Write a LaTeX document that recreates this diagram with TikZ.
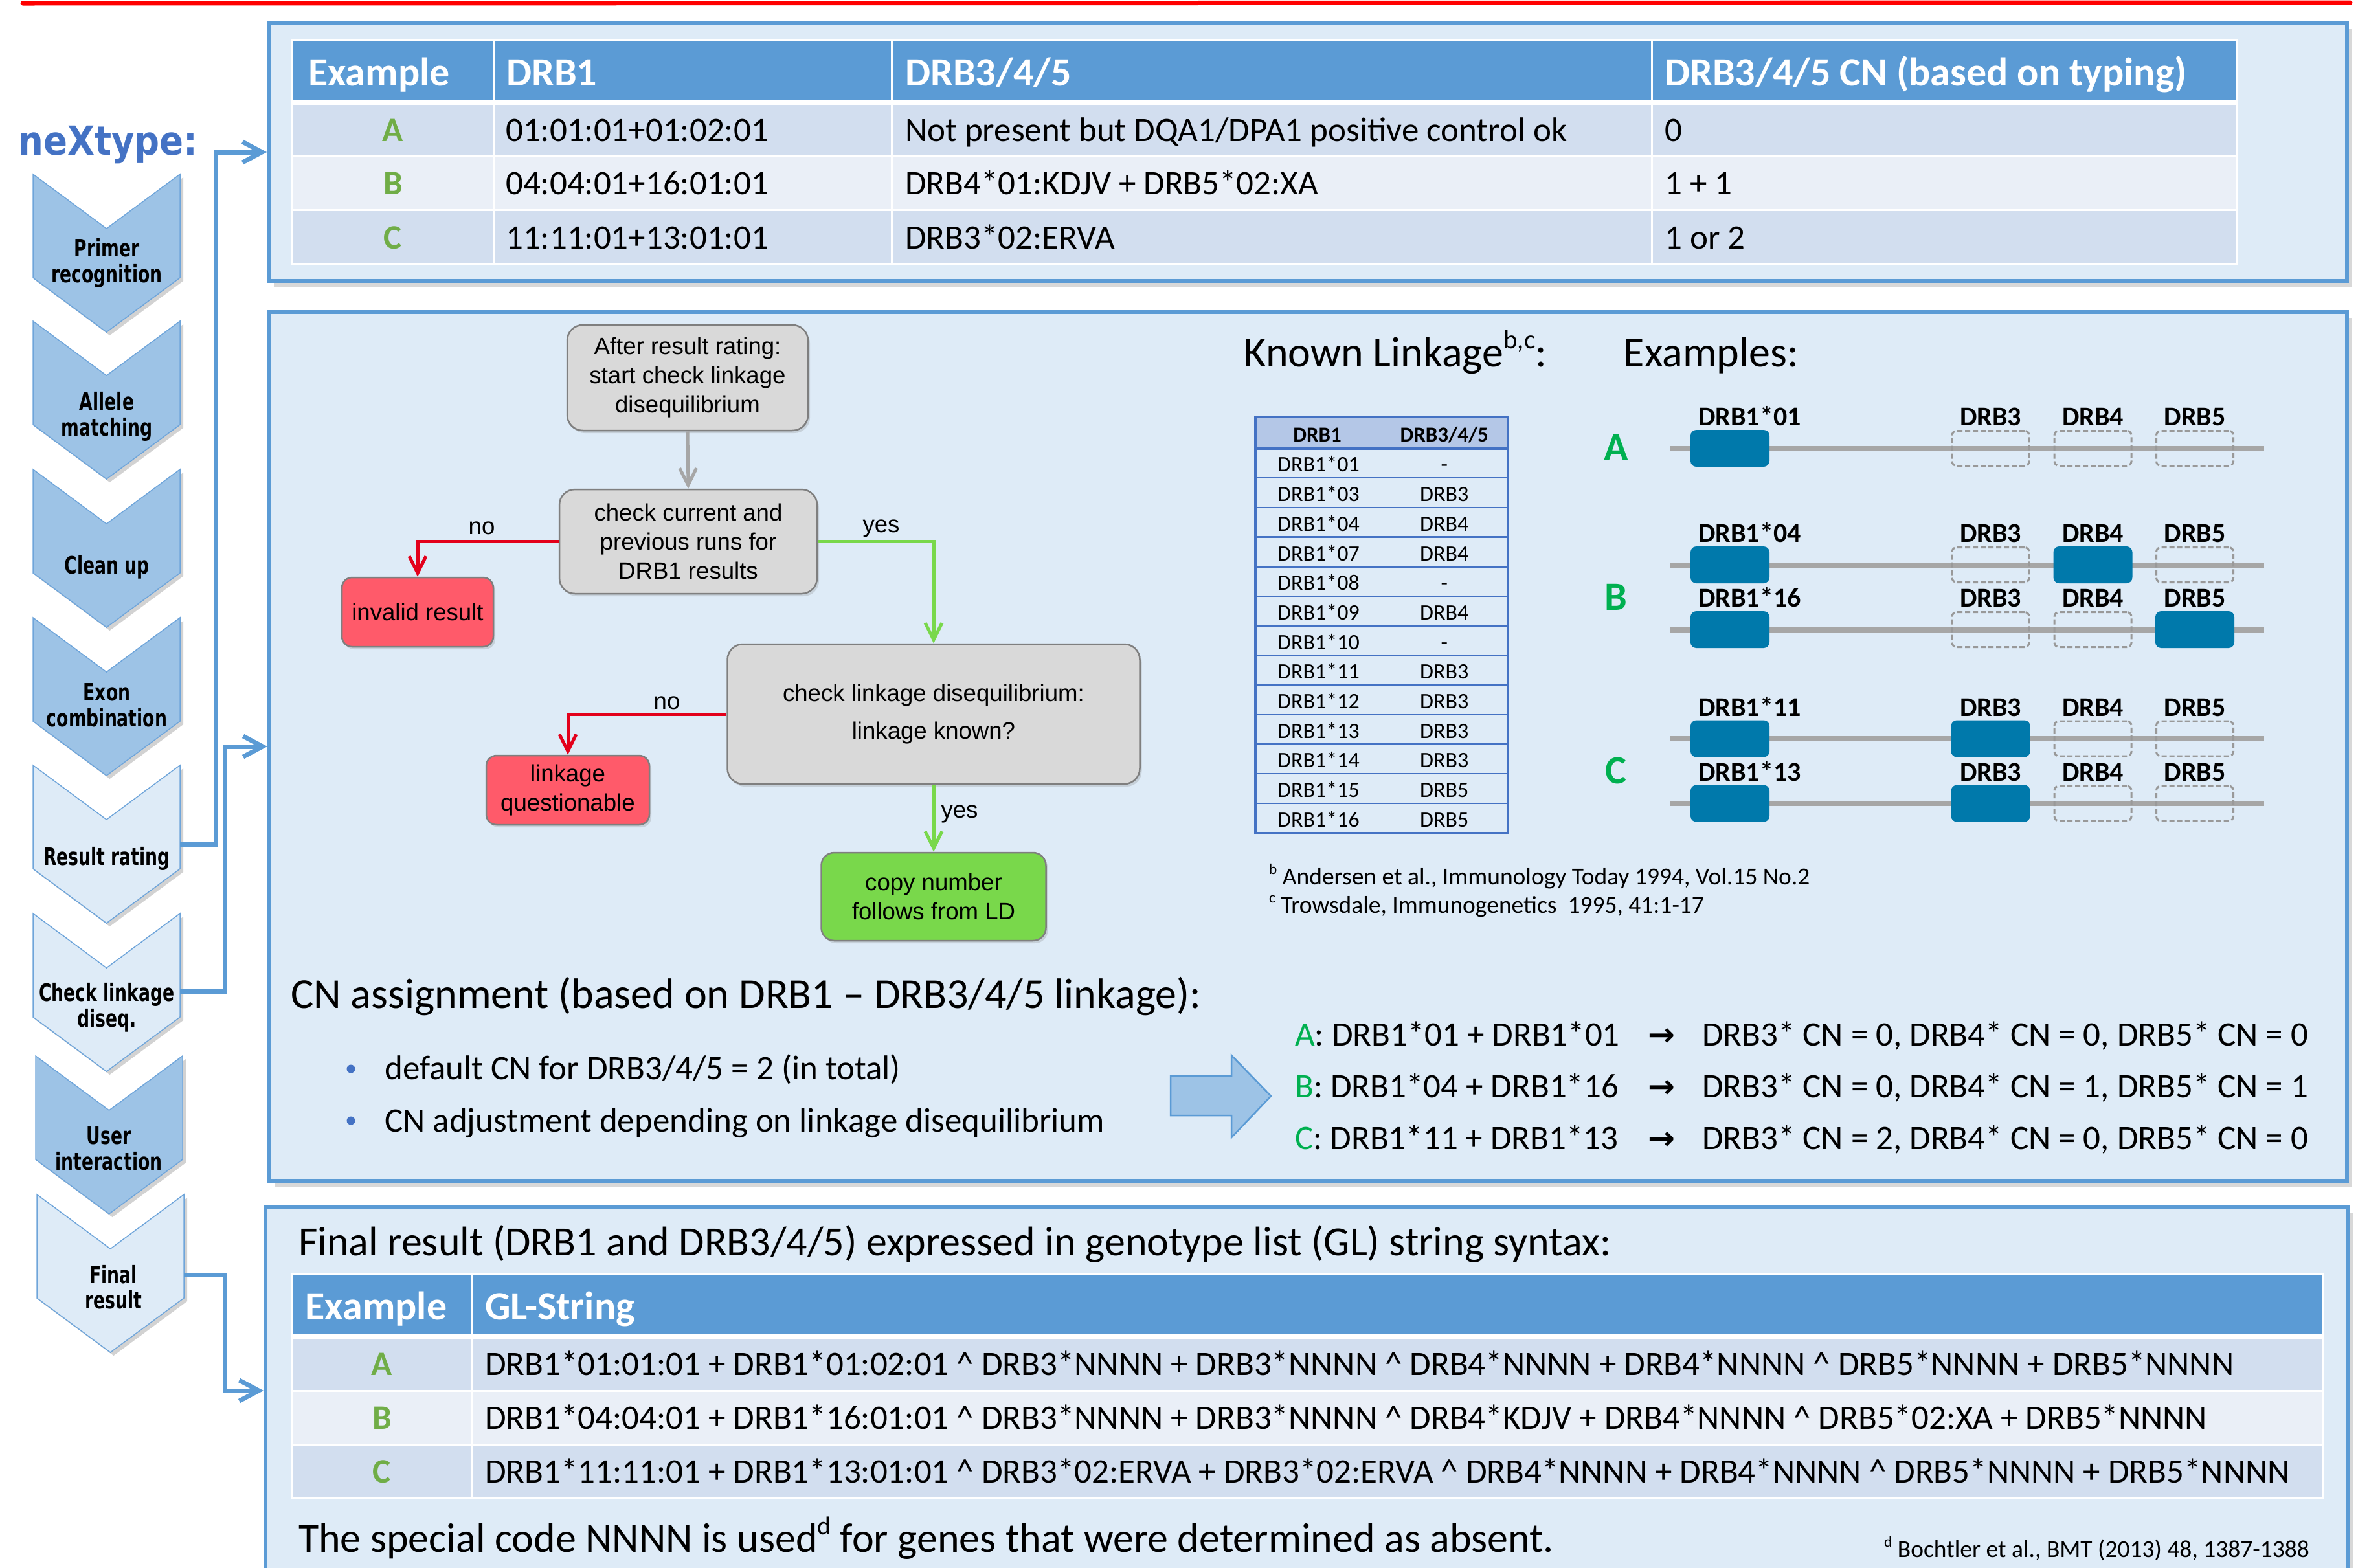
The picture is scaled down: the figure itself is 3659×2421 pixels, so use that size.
\documentclass[tikz,border=0pt]{standalone}
\usepackage{fontspec}
\setmainfont{Carlito}
\newfontfamily\flowfont{Liberation Sans}
\newfontfamily\chevfont{DejaVu Sans}[FakeStretch=0.72]
\newfontfamily\brandfont{DejaVu Sans}[FakeStretch=0.88]
\newfontfamily\symfont{DejaVu Sans}
\usetikzlibrary{arrows.meta,shadows}
\newcommand\fsz[2]{\fontsize{#1}{#2}\selectfont}
\newcommand\sups[1]{\raisebox{0.42em}{\scalebox{0.62}{#1}}}

\definecolor{panelfill}{HTML}{DEEBF7}
\definecolor{panelblue}{HTML}{5B9BD5}
\definecolor{linkblue}{HTML}{5B9BD5}
\definecolor{chevdark}{HTML}{9DC3E6}
\definecolor{chevlight}{HTML}{DEEBF7}
\definecolor{chevedge}{HTML}{6FA5DA}
\definecolor{brandblue}{HTML}{4472C4}
\definecolor{tblhead}{HTML}{5B9BD5}
\definecolor{rowdark}{HTML}{D2DEEF}
\definecolor{rowlight}{HTML}{EAEFF7}
\definecolor{letgreen}{HTML}{70AD47}
\definecolor{abcgreen}{HTML}{00B050}
\definecolor{geneblue}{HTML}{0079AB}
\definecolor{genegrey}{HTML}{A6A6A6}
\definecolor{dashgrey}{HTML}{999999}
\definecolor{flowgrey}{HTML}{D9D9D9}
\definecolor{flowedge}{HTML}{7F7F7F}
\definecolor{flowred}{HTML}{FF5A6A}
\definecolor{flowgreen}{HTML}{79D84B}
\definecolor{nored}{HTML}{E3001B}
\definecolor{yesgreen}{HTML}{79D84B}
\definecolor{arrowgrey}{HTML}{A6A6A6}
\definecolor{lkhead}{HTML}{B4C7E7}
\definecolor{lkedge}{HTML}{4472C4}
\definecolor{topred}{HTML}{FF0000}

% one chevron step of the process strip
\newcommand\chevron[4]{%
  \path[#4] (#1,#3) -- ++(113.5,84) -- ++(113.5,-84) -- ++(0,160)
    -- ++(-113.5,84) -- ++(-113.5,-84) -- cycle;}

% one example haplotype line with DRB1 and DRB3/4/5 slots
\newcommand\generow[6]{%
  \draw[geneline] (2579,#2) -- (3497,#2);
  \node[genefull] (#1-1) at (2672,#2) {};
  \node[#4] (#1-3) at (3074.5,#2) {};
  \node[#5] (#1-4) at (3232.5,#2) {};
  \node[#6] (#1-5) at (3390,#2) {};
  \node[genelab,anchor=base west] (#1-l1) at (2623,#2-35) {#3};
  \node[genelab] (#1-l3) at (3074.5,#2-35) {DRB3};
  \node[genelab] (#1-l4) at (3232.5,#2-35) {DRB4};
  \node[genelab] (#1-l5) at (3390,#2-35) {DRB5};}

\begin{document}
\begin{tikzpicture}[x=1pt,y=-1pt,
  panel/.style={draw=panelblue,line width=6pt,fill=panelfill,inner sep=0pt,
    drop shadow={shadow xshift=8pt,shadow yshift=-9pt,opacity=0.3}},
  chevdark/.style={fill=chevdark,draw=chevedge,line width=1.5pt,
    drop shadow={shadow xshift=5pt,shadow yshift=-5pt,opacity=0.35}},
  chevlight/.style={fill=chevlight,draw=chevedge,line width=1.5pt,
    drop shadow={shadow xshift=5pt,shadow yshift=-5pt,opacity=0.35}},
  chevtext/.style={font=\chevfont\bfseries\fsz{37}{40},anchor=base,inner sep=0pt},
  link/.style={draw=linkblue,line width=7pt,-{Straight Barb[length=30pt,width=32pt]}},
  thead/.style={font=\bfseries\fsz{62}{70},text=white,anchor=base west,inner sep=0pt},
  tbody/.style={font=\fsz{53}{60},anchor=base west,inner sep=0pt},
  tletter/.style={font=\bfseries\fsz{53}{60},text=letgreen,anchor=base,inner sep=0pt},
  big/.style={font=\fsz{66}{74},anchor=base west,inner sep=0pt},
  flowbox/.style={draw=flowedge,line width=2.5pt,align=center,inner sep=0pt,
    font=\flowfont\fsz{36.6}{45},
    drop shadow={shadow xshift=3pt,shadow yshift=-4pt,opacity=0.25}},
  greybox/.style={flowbox,fill=flowgrey,rounded corners=24pt},
  redbox/.style={flowbox,fill=flowred,rounded corners=16pt},
  greenbox/.style={flowbox,fill=flowgreen,rounded corners=20pt},
  flowlabel/.style={font=\flowfont\fsz{36.6}{45},anchor=base,inner sep=0pt},
  noarrow/.style={draw=nored,line width=5pt,-{Straight Barb[length=26pt,width=26pt]}},
  yesarrow/.style={draw=yesgreen,line width=5pt,-{Straight Barb[length=26pt,width=26pt]}},
  startarrow/.style={draw=arrowgrey,line width=5pt,-{Straight Barb[length=26pt,width=26pt]}},
  lktext/.style={font=\fsz{34}{40},inner sep=0pt},
  geneline/.style={draw=genegrey,line width=8pt},
  genefull/.style={fill=geneblue,rounded corners=9pt,minimum width=122pt,minimum height=57pt,inner sep=0pt},
  geneempty/.style={draw=dashgrey,line width=3pt,dash pattern=on 8pt off 4pt,rounded corners=7pt,
    minimum width=119pt,minimum height=54pt,inner sep=0pt},
  genelab/.style={font=\bfseries\fsz{42}{48},anchor=base,inner sep=0pt},
  bigletter/.style={font=\bfseries\fsz{62}{70},text=abcgreen,anchor=base,inner sep=0pt},
  cnline/.style={font=\fsz{53}{60},anchor=base west,inner sep=0pt},
  foot/.style={font=\fsz{37.5}{44},anchor=base west,inner sep=0pt}]

\useasboundingbox (0,0) rectangle (3659,2421);
\fill[white] (0,0) rectangle (3659,2421);

% red rule along the top edge
\draw[topred,line width=7pt,line cap=round] (35,5) -- (3630,4);

% ---------------- panels ----------------
\node[panel,minimum width=3210pt,minimum height=398pt] (toppanel) at (2020,235) {};
\node[panel,minimum width=3209pt,minimum height=1342pt] (midpanel) at (2020.5,1153) {};
\node[panel,minimum width=3216pt,minimum height=566pt] (botpanel) at (2018,2148) {};

% ---------------- process strip ----------------
\node[font=\brandfont\bfseries\fsz{62}{70},text=brandblue,anchor=base west,inner sep=0pt]
  (brand) at (28,239) {neXtype:};

\chevron{51}{278}{269}{chevdark}
\chevron{51}{278}{496}{chevdark}
\chevron{51}{278}{725}{chevdark}
\chevron{51}{278}{954}{chevdark}
\chevron{51}{278}{1182}{chevlight}
\chevron{51}{278}{1411}{chevlight}
\chevron{55}{283}{1631}{chevdark}
\chevron{57}{284}{1845}{chevlight}

\node[chevtext] (s1a) at (165,396) {Primer};
\node[chevtext] (s1b) at (165,436) {recognition};
\node[chevtext] (s2a) at (165,633) {Allele};
\node[chevtext] (s2b) at (165,673) {matching};
\node[chevtext] (s3a) at (165,886) {Clean up};
\node[chevtext] (s4a) at (165,1082) {Exon};
\node[chevtext] (s4b) at (165,1122) {combination};
\node[chevtext] (s5a) at (165,1336) {Result rating};
\node[chevtext] (s6a) at (165,1546) {Check linkage};
\node[chevtext] (s6b) at (165,1586) {diseq.};
\node[chevtext] (s7a) at (168,1767) {User};
\node[chevtext] (s7b) at (168,1807) {interaction};
\node[chevtext] (s8a) at (175,1982) {Final};
\node[chevtext] (s8b) at (175,2021) {result};

\coordinate (s5out) at (278,1304);
\coordinate (s6out) at (278,1531);
\coordinate (s8out) at (284,1969);

\draw[link] (s5out) -- (333,1304) |- (toppanel.west);
\draw[link] (s6out) -- (347,1531) |- (midpanel.west);
\draw[link] (s8out) -- (347,1969) |- (botpanel.west);

% ---------------- typing table ----------------
\fill[white] (450,60) rectangle (3457,410);
\fill[tblhead] (453,63) rectangle (3454,154);
\fill[rowdark] (453,162) rectangle (3454,240);
\fill[rowlight] (453,243) rectangle (3454,323);
\fill[rowdark] (453,326) rectangle (3454,407);
\foreach \x in {762,1377,2551} \draw[white,line width=3pt] (\x,63) -- (\x,407);

\node[thead] (th1) at (476,132) {Example};
\node[thead] (th2) at (782,132) {DRB1};
\node[thead] (th3) at (1398,132) {DRB3/4/5};
\node[thead] (th4) at (2571,132) {DRB3/4/5 CN (based on typing)};

\node[tletter] (ta) at (607,218) {A};
\node[tbody] (ta2) at (781,218) {01:01:01+01:02:01};
\node[tbody] (ta3) at (1398,218) {Not present but DQA1/DPA1 positive control ok};
\node[tbody] (ta4) at (2571,218) {0};
\node[tletter] (tb) at (607,300) {B};
\node[tbody] (tb2) at (781,300) {04:04:01+16:01:01};
\node[tbody] (tb3) at (1398,300) {DRB4*01:KDJV + DRB5*02:XA};
\node[tbody] (tb4) at (2571,300) {1 + 1};
\node[tletter] (tc) at (607,384) {C};
\node[tbody] (tc2) at (781,384) {11:11:01+13:01:01};
\node[tbody] (tc3) at (1398,384) {DRB3*02:ERVA};
\node[tbody] (tc4) at (2571,384) {1 or 2};

% ---------------- linkage disequilibrium flow ----------------
\node[greybox,minimum width=372pt,minimum height=163pt] (n1) at (1062,583.5)
  {After result rating:\\start check linkage\\disequilibrium};
\node[greybox,minimum width=398pt,minimum height=161pt] (n2) at (1063,836.5)
  {check current and\\previous runs for\\DRB1 results};
\node[redbox,minimum width=234pt,minimum height=107pt] (inv) at (645,945.5) {invalid result};
\node[greybox,minimum width=637pt,minimum height=216pt] (n3) at (1442,1103)
  {check linkage disequilibrium:\\[13pt]linkage known?};
\node[redbox,minimum width=252pt,minimum height=107pt] (lq) at (877,1220.5)
  {linkage\\questionable};
\node[greenbox,minimum width=347pt,minimum height=136pt] (n4) at (1442,1385)
  {copy number\\follows from LD};

\draw[startarrow] (n1.south) -- (n2.north);
\draw[noarrow] (n2.west) -| (inv.north);
\draw[yesarrow] (n2.east) -| (n3.north);
\draw[noarrow] (n3.west) -| (lq.north);
\draw[yesarrow] (n3.south) -- (n4.north);
\node[flowlabel] (l1) at (744,825) {no};
\node[flowlabel] (l2) at (1361,822) {yes};
\node[flowlabel] (l3) at (1030,1095) {no};
\node[flowlabel] (l4) at (1482,1263) {yes};

% ---------------- known linkage table ----------------
\node[big] (kl) at (1921.5,566) {Known Linkage\sups{b,c}:};
\node[big] (ex) at (2507.6,566) {Examples:};

\fill[lkhead] (1939,644) rectangle (2329,692.5);
\foreach \k in {1,...,12} \draw[lkedge,line width=2.5pt] (1939,692.5+45.7*\k) -- (2329,692.5+45.7*\k);
\draw[lkedge,line width=4pt] (1939,692.5) -- (2329,692.5);
\draw[lkedge,line width=4pt] (1939,644) rectangle (2329,1286.6);
\node[lktext,font=\bfseries\fsz{33}{40},anchor=base] (lkh1) at (2034.6,682) {DRB1};
\node[lktext,font=\bfseries\fsz{33}{40},anchor=base] (lkh2) at (2230.7,682) {DRB3/4/5};
\foreach \a/\b [count=\i from 0] in {01/-,03/DRB3,04/DRB4,07/DRB4,08/-,09/DRB4,10/-,11/DRB3,12/DRB3,13/DRB3,14/DRB3,15/DRB5,16/DRB5}{
  \node[lktext,anchor=base west] (lk\i a) at (1973,692.5+45.7*\i+36.4) {DRB1*\a};
  \node[lktext,anchor=base] (lk\i b) at (2230.7,692.5+45.7*\i+36.4) {\b};
}

% ---------------- haplotype examples ----------------
\node[bigletter] (exa) at (2496,711) {A};
\node[bigletter] (exb) at (2496,942) {B};
\node[bigletter] (exc) at (2496,1210) {C};
\generow{ga}{692.5}{DRB1*01}{geneempty}{geneempty}{geneempty}
\generow{gb}{872.5}{DRB1*04}{geneempty}{genefull}{geneempty}
\generow{gd}{972.5}{DRB1*16}{geneempty}{geneempty}{genefull}
\generow{gc}{1141}{DRB1*11}{genefull}{geneempty}{geneempty}
\generow{ge}{1241}{DRB1*13}{genefull}{geneempty}{geneempty}

\node[foot] (fb) at (1960,1366) {\sups{b} Andersen et al., Immunology Today 1994, Vol.15 No.2};
\node[foot] (fc) at (1960,1410) {\sups{c} Trowsdale, Immunogenetics\ \ 1995, 41:1-17};

% ---------------- copy number assignment ----------------
\node[big] (cn) at (449,1557) {CN assignment (based on DRB1 – DRB3/4/5 linkage):};
\fill[brandblue] (542,1651) circle (6.5);
\fill[brandblue] (542,1731) circle (6.5);
\node[font=\fsz{53}{60},anchor=base west,inner sep=0pt] (bu1) at (594,1667) {default CN for DRB3/4/5 = 2 (in total)};
\node[font=\fsz{53}{60},anchor=base west,inner sep=0pt] (bu2) at (594,1748) {CN adjustment depending on linkage disequilibrium};

\path[fill=chevdark,draw=linkblue,line width=2.5pt]
  (1808,1662) -- (1902,1662) -- (1902,1630) -- (1963,1693) -- (1902,1757)
  -- (1902,1723) -- (1808,1723) -- cycle;

\node[cnline] (ca) at (2000,1615) {\textcolor{abcgreen}{A}: DRB1*01 + DRB1*01};
\node[cnline] (cb) at (2000,1695) {\textcolor{abcgreen}{B}: DRB1*04 + DRB1*16};
\node[cnline] (cc) at (2000,1775) {\textcolor{abcgreen}{C}: DRB1*11 + DRB1*13};
\foreach \y/\n in {1615/a,1695/b,1775/c}
  \node[font=\symfont\bfseries\fsz{50}{58},anchor=base,inner sep=0pt] (arr\n) at (2566,\y) {→};
\node[cnline] (ra) at (2629,1615) {DRB3* CN = 0, DRB4* CN = 0, DRB5* CN = 0};
\node[cnline] (rb) at (2629,1695) {DRB3* CN = 0, DRB4* CN = 1, DRB5* CN = 1};
\node[cnline] (rc) at (2629,1775) {DRB3* CN = 2, DRB4* CN = 0, DRB5* CN = 0};

% ---------------- GL string result ----------------
\node[font=\fsz{64}{72},anchor=base west,inner sep=0pt] (gl) at (461,1939) {Final result (DRB1 and DRB3/4/5) expressed in genotype list (GL) string syntax:};

\fill[white] (449,1966.5) rectangle (3590,2316);
\fill[tblhead] (452,1969.5) rectangle (3587,2061);
\fill[rowdark] (452,2069) rectangle (3587,2147);
\fill[rowlight] (452,2150) rectangle (3587,2229.5);
\fill[rowdark] (452,2232.6) rectangle (3587,2313);
\draw[white,line width=3pt] (728.5,1969.5) -- (728.5,2313);

\node[thead] (gh1) at (471.5,2038) {Example};
\node[thead] (gh2) at (749,2038) {GL-String};
\node[tletter] (ga) at (590,2124) {A};
\node[tletter] (gb) at (590,2207) {B};
\node[tletter] (gc) at (590,2290) {C};
\node[tbody] (gsa) at (749,2124) {DRB1*01:01:01 + DRB1*01:02:01 \textasciicircum{} DRB3*NNNN + DRB3*NNNN \textasciicircum{} DRB4*NNNN + DRB4*NNNN \textasciicircum{} DRB5*NNNN + DRB5*NNNN};
\node[tbody] (gsb) at (749,2207) {DRB1*04:04:01 + DRB1*16:01:01 \textasciicircum{} DRB3*NNNN + DRB3*NNNN \textasciicircum{} DRB4*KDJV + DRB4*NNNN \textasciicircum{} DRB5*02:XA + DRB5*NNNN};
\node[tbody] (gsc) at (749,2290) {DRB1*11:11:01 + DRB1*13:01:01 \textasciicircum{} DRB3*02:ERVA + DRB3*02:ERVA \textasciicircum{} DRB4*NNNN + DRB4*NNNN \textasciicircum{} DRB5*NNNN + DRB5*NNNN};

\node[font=\fsz{64}{72},anchor=base west,inner sep=0pt] (nn) at (461,2397)
  {The special code NNNN is used\sups{d} for genes that were determined as absent.};
\node[foot] (fd) at (2910,2405) {\sups{d} Bochtler et al., BMT (2013) 48, 1387-1388};

\end{tikzpicture}
\end{document}
